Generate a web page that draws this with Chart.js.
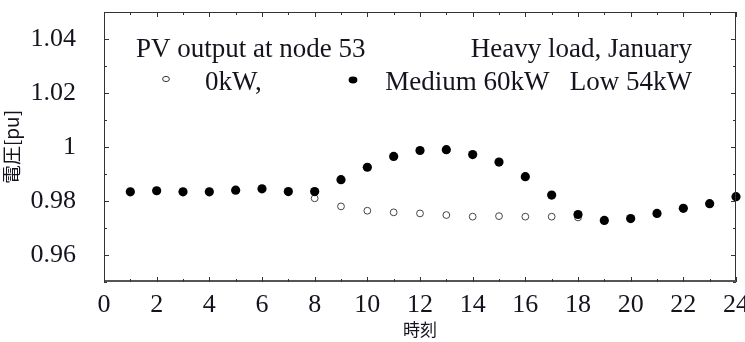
<!DOCTYPE html>
<html>
<head>
<meta charset="utf-8">
<script src="https://cdn.jsdelivr.net/npm/chart.js@4.4.1/dist/chart.umd.min.js"></script>
<style>
  html, body { margin: 0; padding: 0; background: #fff; }
  #wrap { width: 745px; height: 342px; }
</style>
</head>
<body>
<div id="wrap"><canvas id="voltage-chart" width="745" height="342"></canvas></div>
<script>
// hours 1..24
const hours = [1,2,3,4,5,6,7,8,9,10,11,12,13,14,15,16,17,18,19,20,21,22,23,24];

// PV 60kW (Medium) / 54kW (Low) - filled dots
const pvOn = [0.9834,0.9838,0.9834,0.9834,0.9840,0.9845,0.9835,0.9835,0.9879,0.9925,0.9965,0.9987,
              0.9990,0.9972,0.9944,0.9890,0.9822,0.9750,0.9728,0.9735,0.9754,0.9773,0.9790,0.9816];

// PV 0kW - open circles (night hours sit under the filled dots)
const pvOff = [0.9834,0.9838,0.9834,0.9834,0.9840,0.9845,0.9835,0.9810,0.9780,0.9764,0.9758,0.9754,
               0.9748,0.9742,0.9744,0.9742,0.9742,0.9739,0.9728,0.9735,0.9754,0.9773,0.9790,0.9816];

const xMin = 0, xMax = 24;
const yMin = 0.95, yMax = 1.05;

const serif = "'Liberation Serif', 'Times New Roman', serif";
const ink = '#14141e';

function toPoints(ys) {
  return hours.map(function(h, i) { return { x: h, y: ys[i] }; });
}

// frame + inward ticks on all four sides, plus the text block
const framePlugin = {
  id: 'frame',
  afterDatasetsDraw(chart) {
    const c = chart.ctx;
    const a = chart.chartArea;
    const xs = chart.scales.x;
    const ys = chart.scales.y;
    c.save();
    c.strokeStyle = '#333';
    c.lineWidth = 1;
    c.strokeRect(a.left + 0.5, a.top + 0.5, a.right - a.left - 1, a.bottom - a.top - 1);
    c.lineWidth = 2;
    c.strokeStyle = '#555';
    c.beginPath();
    c.moveTo(a.left, a.bottom - 1);
    c.lineTo(a.right, a.bottom - 1);
    c.stroke();

    c.lineWidth = 1;
    c.strokeStyle = '#333';
    c.beginPath();
    for (let h = xMin; h <= xMax; h++) {
      const px = Math.round(xs.getPixelForValue(h)) + 0.5;
      const len = h % 2 === 0 ? 5 : 3;
      c.moveTo(px, a.bottom); c.lineTo(px, a.bottom - len);
      c.moveTo(px, a.top); c.lineTo(px, a.top + len);
    }
    for (let k = 95; k <= 105; k++) {
      const py = Math.round(ys.getPixelForValue(k / 100)) + 0.5;
      const len = k % 2 === 0 ? 5 : 3;
      c.moveTo(a.left, py); c.lineTo(a.left + len, py);
      c.moveTo(a.right, py); c.lineTo(a.right - len, py);
    }
    c.stroke();

    // annotation text
    c.fillStyle = ink;
    c.font = '27px ' + serif;
    c.textBaseline = 'alphabetic';
    c.textAlign = 'left';
    c.fillText('PV output at node 53', a.left + 32, a.top + 45);
    c.fillText('0kW,', a.left + 101, a.top + 78);
    c.textAlign = 'right';
    c.fillText('Heavy load, January', a.left + 588, a.top + 45);
    c.fillText('Medium 60kW   Low 54kW', a.left + 588, a.top + 78);

    // marker keys
    c.beginPath();
    c.ellipse(a.left + 62, a.top + 67, 3.4, 2.6, 0, 0, Math.PI * 2);
    c.strokeStyle = '#333';
    c.lineWidth = 1;
    c.stroke();
    c.beginPath();
    c.ellipse(a.left + 249, a.top + 68, 4.4, 3.4, 0, 0, Math.PI * 2);
    c.fillStyle = '#000';
    c.fill();
    c.restore();
  }
};

const ctx = document.getElementById('voltage-chart');

new Chart(ctx, {
  type: 'scatter',
  data: {
    datasets: [{
      label: 'Medium 60kW Low 54kW',
      data: toPoints(pvOn),
      pointStyle: 'circle',
      pointRadius: 4.6,
      pointBackgroundColor: '#000',
      pointBorderColor: '#000',
      pointBorderWidth: 0,
      showLine: false,
      clip: false
    }, {
      label: '0kW',
      data: toPoints(pvOff),
      pointStyle: 'circle',
      pointRadius: 3.4,
      pointBackgroundColor: '#fff',
      pointBorderColor: '#444',
      pointBorderWidth: 1,
      showLine: false,
      clip: false
    }]
  },
  options: {
    responsive: false,
    animation: false,
    events: [],
    layout: { padding: { top: 12, right: 9, left: 0, bottom: 0 } },
    plugins: {
      legend: { display: false },
      tooltip: { enabled: false }
    },
    scales: {
      x: {
        type: 'linear',
        min: xMin,
        max: xMax,
        grid: { display: false, drawTicks: false },
        border: { display: false },
        ticks: {
          stepSize: 1,
          autoSkip: false,
          maxRotation: 0,
          padding: 8,
          color: ink,
          font: { family: serif, size: 26 },
          callback: function(v) { return v % 2 === 0 ? String(v) : ''; }
        },
        title: {
          display: true,
          text: '時刻',
          color: ink,
          padding: { top: 0, bottom: 2 },
          font: { family: "'Noto Sans CJK JP', sans-serif", size: 17 }
        },
        afterFit: function(scale) {
          scale.height = 60;
          scale.paddingLeft = 0;
          scale.paddingRight = 0;
        }
      },
      y: {
        min: yMin,
        max: yMax,
        grid: { display: false, drawTicks: false },
        border: { display: false },
        ticks: {
          stepSize: 0.01,
          autoSkip: false,
          padding: 28,
          color: ink,
          font: { family: serif, size: 26 },
          callback: function(v) {
            const k = Math.round(v * 100);
            if (k % 2 !== 0) return '';
            return String(k / 100);
          }
        },
        title: {
          display: true,
          text: '電圧[pu]',
          color: ink,
          padding: { top: 0, bottom: 0 },
          font: { family: "'Noto Sans CJK JP', sans-serif", size: 19 }
        },
        afterFit: function(scale) {
          scale.width = 104;
          scale.paddingTop = 0;
          scale.paddingBottom = 0;
        }
      }
    }
  },
  plugins: [framePlugin]
});
</script>
</body>
</html>
